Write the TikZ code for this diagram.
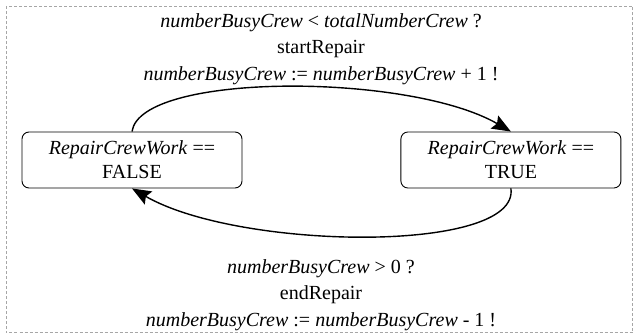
\documentclass[tikz,border=0pt]{standalone}
\usepackage{fontspec}
\setmainfont{Liberation Serif}
\usetikzlibrary{arrows.meta, positioning, calc}

\begin{document}
\begin{tikzpicture}[
    x=1pt, y=1pt,
    node distance=158pt,
    state/.style={rectangle, draw, rounded corners=7pt, line width=0.9pt,
                  minimum height=56pt, minimum width=220pt, align=center,
                  font=\fontsize{20}{24}\selectfont},
    guard/.style={align=center, inner sep=0pt,
                  font=\fontsize{20}{26.5}\selectfont},
    arrow/.style={-{Stealth[length=19pt, width=15pt, inset=3pt]}, line width=1.4pt}
]
    \useasboundingbox (0,0) rectangle (634,-334);
    \draw[gray!70, dashed, line width=0.7pt, dash pattern=on 3pt off 2pt]
      (6,-6) rectangle (632.5,-332.5);

    \node[state] (falseState) at (132,-160) {\textit{RepairCrewWork} ==\\FALSE};
    \node[state, right=of falseState] (trueState) {\textit{RepairCrewWork} ==\\TRUE};

    \node[guard] (startLabel) at (321,-49)
      {\textit{numberBusyCrew} < \textit{totalNumberCrew} ?\\startRepair\\
       \textit{numberBusyCrew} := \textit{numberBusyCrew} + 1 !};
    \node[guard] (endLabel) at (321,-295)
      {\textit{numberBusyCrew} > 0 ?\\endRepair\\
       \textit{numberBusyCrew} := \textit{numberBusyCrew} - 1 !};

    \draw[arrow] (falseState.north) to[out=82, in=150, out distance=60pt, in distance=118pt]
      (trueState.north);
    \draw[arrow] (trueState.south) to[out=-82, in=-30, out distance=66pt, in distance=124pt]
      (falseState.south);
\end{tikzpicture}
\end{document}
